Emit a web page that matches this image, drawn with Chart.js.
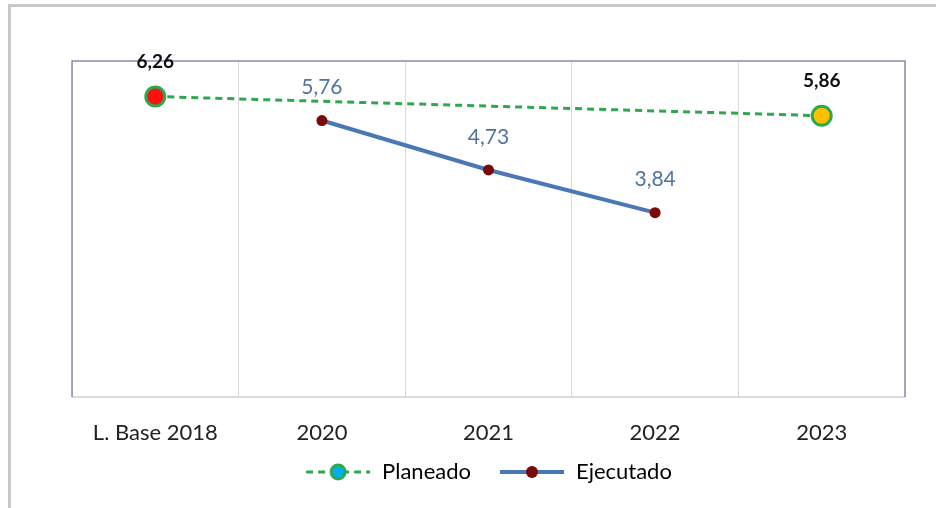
<!DOCTYPE html>
<html>
<head>
<meta charset="utf-8">
<script src="https://cdn.jsdelivr.net/npm/chart.js@4/dist/chart.umd.min.js"></script>
<style>
  body { margin: 0; background: #fff; }
  #marco { position: absolute; left: 8px; top: 4px; width: 940px; height: 520px;
           border-left: 3px solid #c8c8c8; border-top: 3px solid #c8c8c8; }
  #box { position: absolute; left: 0; top: 0; width: 936px; height: 508px; }
</style>
</head>
<body>
<div id="marco"></div>
<div id="box"><canvas id="grafico"></canvas></div>
<script>
// datos
var etiquetas = ["L. Base 2018", "2020", "2021", "2022", "2023"];
var planeado = [6.26, null, null, null, 5.86];
var ejecutado = [null, 5.76, 4.73, 3.84, null];

var verde = "#2ea84e";
var azul = "#4a78b4";
var granate = "#7a0a0a";
var fuente = "Lato, 'Open Sans', sans-serif";

// dibuja el simbolo de la leyenda (linea + punto)
function simbolo(color, dash, relleno, borde){
  var c = document.createElement("canvas");
  c.width = 66; c.height = 20;
  var g = c.getContext("2d");
  g.strokeStyle = color;
  g.lineWidth = dash ? 3 : 4;
  g.setLineDash(dash ? [7, 5] : []);
  g.beginPath(); g.moveTo(1, 10); g.lineTo(65, 10); g.stroke();
  g.setLineDash([]);
  g.beginPath(); g.arc(33, 10, borde ? 7 : 6, 0, Math.PI * 2);
  g.fillStyle = relleno; g.fill();
  if(borde){ g.strokeStyle = borde; g.lineWidth = 3; g.stroke(); }
  return c;
}

var simbolos = [simbolo(verde, true, "#00b0f0", verde), simbolo(azul, false, granate, null)];

// valores encima de los puntos
var etiquetasDatos = {
  id: "etiquetasDatos",
  afterDatasetsDraw: function(chart){
    var ctx = chart.ctx;
    chart.data.datasets.forEach(function(ds, i){
      var meta = chart.getDatasetMeta(i);
      meta.data.forEach(function(p, j){
        var v = ds.data[j];
        if(v == null) return;
        ctx.save();
        ctx.textAlign = "center";
        ctx.textBaseline = "middle";
        if(i == 0){
          ctx.font = "bold 19px " + fuente;
          ctx.fillStyle = "#111";
          ctx.fillText(v.toFixed(2).replace(".", ","), p.x, p.y - 35);
        } else {
          ctx.font = "21px " + fuente;
          ctx.fillStyle = "#4f73a3";
          ctx.fillText(v.toFixed(2).replace(".", ","), p.x, p.y - 33);
        }
        ctx.restore();
      });
    });
  }
};

// borde del area del grafico
var bordeArea = {
  id: "bordeArea",
  beforeDatasetsDraw: function(chart){
    var a = chart.chartArea, ctx = chart.ctx;
    ctx.save();
    ctx.lineWidth = 1.5;
    ctx.strokeStyle = "#d0d0d0";
    ctx.beginPath(); ctx.moveTo(a.left, a.bottom); ctx.lineTo(a.right, a.bottom); ctx.stroke();
    ctx.strokeStyle = "#8c8cb4";
    ctx.beginPath();
    ctx.moveTo(a.left, a.bottom); ctx.lineTo(a.left, a.top);
    ctx.lineTo(a.right, a.top); ctx.lineTo(a.right, a.bottom);
    ctx.stroke();
    ctx.restore();
  }
};

var ctx = document.getElementById("grafico").getContext("2d");
var chart = new Chart(ctx, {
  type: "line",
  data: {
    labels: etiquetas,
    datasets: [{
      label: "Planeado",
      data: planeado,
      borderColor: verde,
      borderWidth: 3,
      borderDash: [7, 5],
      spanGaps: true,
      pointRadius: 9.5,
      pointBorderWidth: 3,
      pointBorderColor: verde,
      pointBackgroundColor: ["#ff1010", "#00b0f0", "#00b0f0", "#00b0f0", "#ffc000"]
    }, {
      label: "Ejecutado",
      data: ejecutado,
      borderColor: azul,
      borderWidth: 4,
      pointRadius: 5.5,
      pointBorderWidth: 0,
      pointBackgroundColor: granate
    }]
  },
  options: {
    responsive: true,
    maintainAspectRatio: false,
    animation: false,
    layout: { padding: { left: 72, right: 31, top: 61, bottom: 15 } },
    scales: {
      x: {
        offset: true,
        grid: { offset: true, color: "#d9d9d9", drawTicks: false },
        border: { display: false },
        ticks: { color: "#222", font: { family: fuente, size: 22 }, padding: 23 },
        afterFit: function(scale){ scale.height = 58; }
      },
      y: { display: false, min: 0, max: 7 }
    },
    plugins: {
      tooltip: { enabled: false },
      legend: {
        position: "bottom",
        labels: {
          usePointStyle: true,
          pointStyleWidth: 66,
          color: "#222",
          font: { family: fuente, size: 22 },
          padding: 6,
          generateLabels: function(chart){
            return chart.data.datasets.map(function(ds, i){
              // espacio extra tras el primer texto para separar los elementos
              var txt = i == 0 ? ds.label + "\u2002\u2002" : ds.label;
              return { text: txt, pointStyle: simbolos[i], datasetIndex: i,
                       fillStyle: "transparent", strokeStyle: "transparent", lineWidth: 0 };
            });
          }
        }
      }
    }
  },
  plugins: [etiquetasDatos, bordeArea]
});
</script>
</body>
</html>
